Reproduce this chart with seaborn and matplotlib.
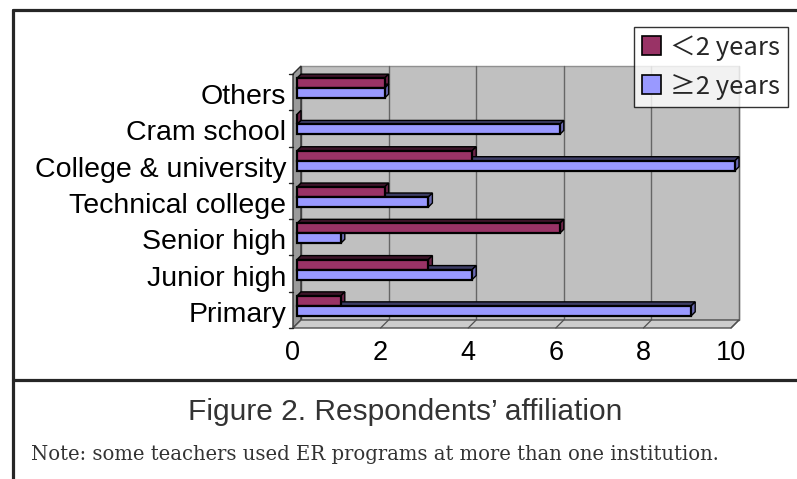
import matplotlib
matplotlib.use("Agg")
import numpy as np
import pandas as pd
import seaborn as sns
import matplotlib.pyplot as plt
import matplotlib.colors as mcolors
from matplotlib.patches import Polygon, Rectangle
from matplotlib.lines import Line2D
from matplotlib.transforms import ScaledTranslation, IdentityTransform

# ---- data -------------------------------------------------------------
categories = ["Others", "Cram school", "College & university",
              "Technical college", "Senior high", "Junior high", "Primary"]
under_two_years = [2, 0, 4, 2, 6, 3, 1]
two_plus_years = [2, 6, 10, 3, 1, 4, 9]
series_labels = ["\uff1c2 years", "\u22652 years"]
x_ticks = [0, 2, 4, 6, 8, 10]
caption = "Figure 2. Respondents\u2019 affiliation"
note = "Note: some teachers used ER programs at more than one institution."

series_colors = ["#993366", "#9999FF"]

df = pd.DataFrame({
    "Affiliation": categories * 2,
    "Teachers": under_two_years + two_plus_years,
    "Experience": [series_labels[0]] * len(categories)
                  + [series_labels[1]] * len(categories),
})

# ---- figure -----------------------------------------------------------
sns.set_theme(style="white")
plt.rcParams["font.family"] = ["Liberation Sans", "DejaVu Sans"]

W, H, DPI = 797, 479, 100
fig = plt.figure(figsize=(W / DPI, H / DPI), dpi=DPI)
fig.patch.set_facecolor("white")

# axes box (pixel geometry measured from the top-left corner)
ax_l, ax_r, ax_t, ax_b = 297, 735, 70, 324
ax = fig.add_axes([ax_l / W, 1 - ax_b / H, (ax_r - ax_l) / W, (ax_b - ax_t) / H])

sns.barplot(data=df, y="Affiliation", x="Teachers", hue="Experience",
            order=categories, hue_order=series_labels, palette=series_colors,
            orient="h", width=0.55, saturation=1, edgecolor="black",
            linewidth=1.6, legend=False, ax=ax)
bars = [p for p in ax.patches]

ax.set_xlim(0, 10)
ax.set_ylim(len(categories) - 0.5, -0.5)
ax.set_xticks(x_ticks)
ax.set_xlabel("")
ax.set_ylabel("")
ax.set_facecolor("none")
for s in ax.spines.values():
    s.set_visible(False)

# ---- pseudo 3-D chart box ---------------------------------------------
d = 4  # depth offset in pixels
back = ax.transData + ScaledTranslation(d / DPI, d / DPI, fig.dpi_scale_trans)
front = ax.transData + ScaledTranslation(-d / DPI, -d / DPI, fig.dpi_scale_trans)
ylo, yhi = len(categories) - 0.5, -0.5

ax.add_patch(Rectangle((0, yhi), 10, ylo - yhi, transform=back,
                       facecolor="#c0c0c0", edgecolor="#909090", lw=1,
                       zorder=0.1, clip_on=False))
for t in x_ticks:
    ax.add_line(Line2D([t, t], [ylo, yhi], transform=back, color="#666666",
                       lw=1, zorder=0.2, clip_on=False))


def disp(pts, tr):
    return tr.transform(np.asarray(pts, dtype=float))


# left wall
bl = disp([(0, yhi), (0, ylo)], back)
fl = disp([(0, ylo), (0, yhi)], front)
ax.add_patch(Polygon(np.vstack([bl, fl]), closed=True, transform=IdentityTransform(),
                     facecolor="#9a9a9a", edgecolor="#303030", lw=1,
                     zorder=0.3, clip_on=False))
# floor
bf = disp([(0, ylo), (10, ylo)], back)
ff = disp([(10, ylo), (0, ylo)], front)
ax.add_patch(Polygon(np.vstack([bf, ff]), closed=True, transform=IdentityTransform(),
                     facecolor="#cccccc", edgecolor="#505050", lw=1,
                     zorder=0.3, clip_on=False))
for t in x_ticks[1:]:
    seg = np.vstack([disp([(t, ylo)], back), disp([(t, ylo)], front)])
    ax.add_line(Line2D(seg[:, 0], seg[:, 1], transform=IdentityTransform(),
                       color="#505050", lw=0.9, zorder=0.35, clip_on=False))
# small category ticks on the left wall edge
for b in np.arange(-0.5, len(categories) + 0.5, 1.0):
    p = disp([(0, b)], front)[0]
    ax.add_line(Line2D([p[0] - 4, p[0]], [p[1], p[1]],
                       transform=IdentityTransform(), color="#202020",
                       lw=1, zorder=0.36, clip_on=False))

# extruded bar faces
for p in bars:
    x0, y0, w, h = p.get_x(), p.get_y(), p.get_width(), p.get_height()
    c = disp([(x0, y0), (x0 + w, y0 + h)], ax.transData)
    xa, xb = c[:, 0].min(), c[:, 0].max()
    yb, yt = c[:, 1].min(), c[:, 1].max()
    base = np.array(mcolors.to_rgb(p.get_facecolor()))
    top = [(xa, yt), (xb, yt), (xb + d, yt + d), (xa + d, yt + d)]
    side = [(xb, yb), (xb, yt), (xb + d, yt + d), (xb + d, yb + d)]
    ax.add_patch(Polygon(top, closed=True, transform=IdentityTransform(),
                         facecolor=base * 0.4, edgecolor="black", lw=1,
                         zorder=1.5, clip_on=False))
    ax.add_patch(Polygon(side, closed=True, transform=IdentityTransform(),
                         facecolor=base * 0.7, edgecolor="black", lw=1,
                         zorder=1.5, clip_on=False))
    p.set_zorder(2)
    p.set_clip_on(False)

# ---- tick labels on the front plane -------------------------------------
ax.tick_params(axis="both", length=0)
ax.tick_params(axis="y", pad=5, labelsize=20.5, labelcolor="black")
ax.tick_params(axis="x", pad=9, labelsize=19.5, labelcolor="black")
for lab in ax.get_yticklabels():
    lab.set_transform(lab.get_transform()
                      + ScaledTranslation(-d / DPI, -6 / DPI, fig.dpi_scale_trans))
for lab in ax.get_xticklabels():
    lab.set_transform(lab.get_transform()
                      + ScaledTranslation(-d / DPI, -d / DPI, fig.dpi_scale_trans))

# ---- legend ---------------------------------------------------------------
handles = [Rectangle((0, 0), 1, 1, facecolor=c, edgecolor="black", lw=1.2)
           for c in series_colors]
leg = fig.legend(handles, series_labels, loc="upper left",
                 bbox_to_anchor=(634 / W, 1 - 27 / H),
                 prop={"family": ["Noto Sans CJK JP", "DejaVu Sans"], "size": 18.5},
                 frameon=True, fancybox=False, edgecolor="black",
                 handlelength=0.75, handleheight=0.75, handletextpad=0.35,
                 borderpad=0.3, labelspacing=0.5, borderaxespad=0)
leg.get_frame().set_linewidth(1)

# ---- frame and captions ---------------------------------------------------
frame_kw = dict(color="#262626", lw=2.3, transform=fig.transFigure)
fig.add_artist(Line2D([13 / W, 1], [1 - 10 / H, 1 - 10 / H], **frame_kw))
fig.add_artist(Line2D([13 / W, 13 / W], [0, 1 - 10 / H], **frame_kw))
fig.add_artist(Line2D([13 / W, 1], [1 - 380 / H, 1 - 380 / H], **frame_kw))

fig.text(405 / W, 1 - 412 / H, caption, ha="center", va="center",
         fontsize=21.5, color="#333333", family="Liberation Sans")
fig.text(31 / W, 1 - 455 / H, note, ha="left", va="center",
         fontsize=14.1, color="#333333", family="DejaVu Serif")

fig.savefig("out.png", dpi=DPI)
